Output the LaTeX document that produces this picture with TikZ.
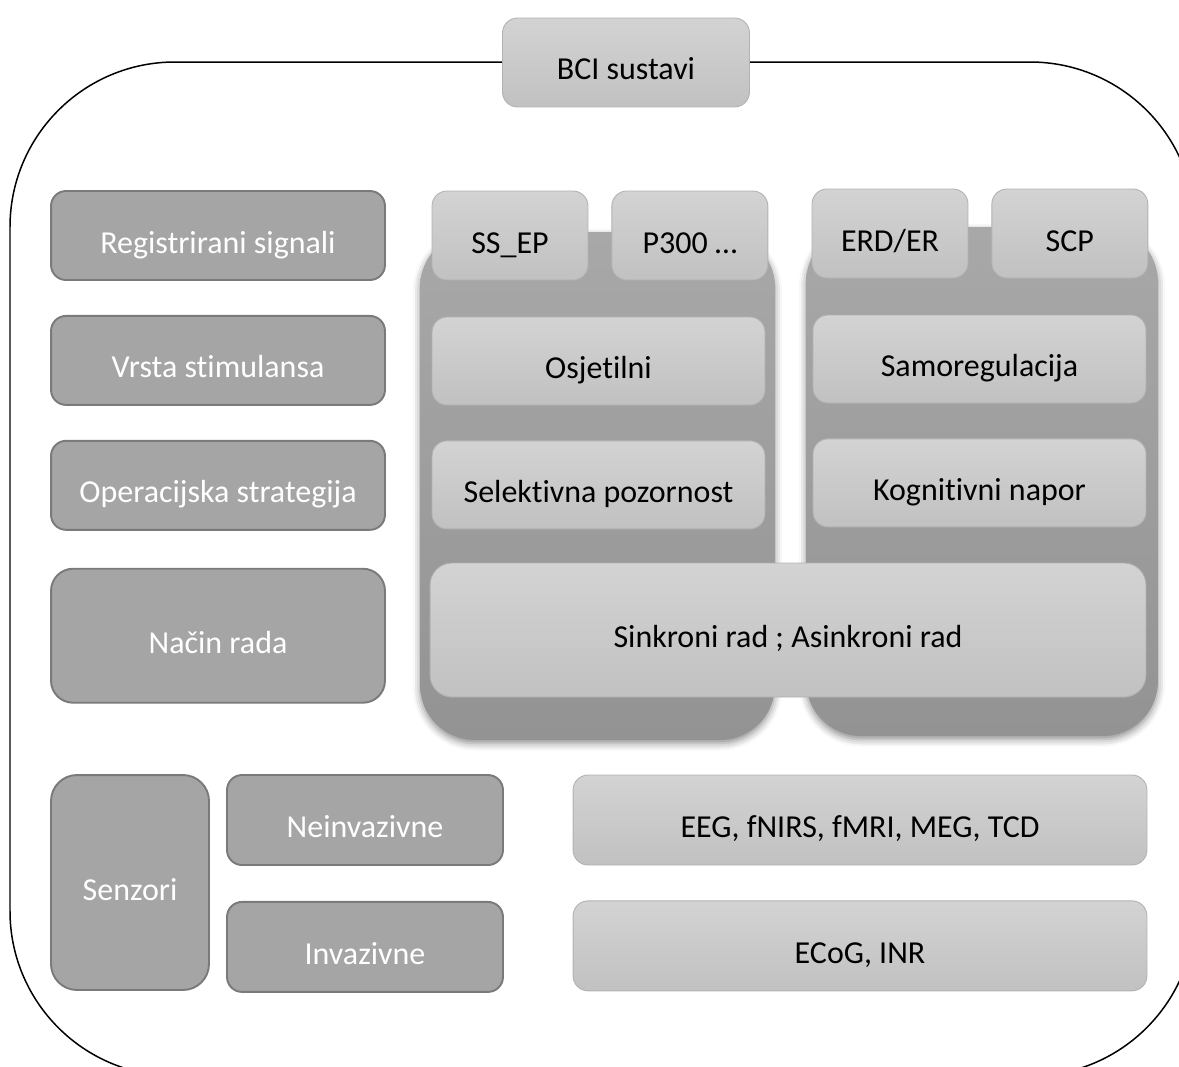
\documentclass[tikz,border=0pt]{standalone}
\usepackage{fontspec}
\setmainfont{Carlito}[Ligatures=NoCommon]
\usetikzlibrary{positioning, shadows.blur}
\definecolor{boxdark}{RGB}{165,165,165}
\definecolor{boxdarkline}{RGB}{122,122,122}
\definecolor{boxlighttop}{RGB}{211,211,211}
\definecolor{boxlightbot}{RGB}{193,193,193}
\definecolor{boxlightline}{RGB}{178,178,178}
\definecolor{grouptop}{RGB}{168,168,168}
\definecolor{groupbot}{RGB}{147,147,147}
\tikzset{
    bcidiagram/.style={x=0.02cm, y=-0.02cm, font=\fontsize{18.2}{22}\selectfont, node distance=0.68cm and 0.46cm},
    frame/.style={draw=black, line width=0.85pt, rounded corners=3.3cm},
    group/.style={top color=grouptop, bottom color=groupbot, rounded corners=1.1cm,
        blur shadow={shadow xshift=0pt, shadow yshift=-2pt, shadow blur radius=4pt, shadow opacity=45}},
    darkbox/.style={draw=boxdarkline, line width=1.1pt, fill=boxdark, text=white, rounded corners=0.3cm,
        minimum width=6.68cm, minimum height=1.78cm, inner sep=0pt, text height=20pt, text depth=0pt},
    lightbox/.style={draw=boxlightline, line width=0.5pt, top color=boxlighttop, bottom color=boxlightbot,
        rounded corners=0.3cm, minimum height=1.78cm, inner sep=0pt, text height=20pt, text depth=0pt},
    tab/.style={lightbox, minimum width=3.12cm},
    wide/.style={lightbox, minimum width=6.66cm, minimum height=1.76cm},
}

\begin{document}
\begin{tikzpicture}[bcidiagram]
    \useasboundingbox (0,0) rectangle (1179,1066);
    \clip (0,0) rectangle (1179,1066);

    % outer frame with the title on its top edge
    \draw[frame] (10,62) rectangle (1195,1076);
    \node[lightbox, minimum width=4.94cm, text height=19pt] (bci) at (626,62.5) {BCI sustavi};

    % left column
    \node[darkbox]                    (reg)   at (218,235.5) {Registrirani signali};
    \node[darkbox, below=of reg]      (vrsta) {Vrsta stimulansa};
    \node[darkbox, below=of vrsta]    (oper)  {Operacijska strategija};
    \node[darkbox, below=0.74cm of oper, minimum height=2.68cm, rounded corners=0.44cm] (nacin) {Način rada};

    % the two groups behind the light boxes
    \node[group, minimum width=7.1cm, minimum height=10.16cm]  (grpL) at (597.5,486) {};
    \node[group, minimum width=7.04cm, minimum height=10.18cm] (grpR) at (982,481.5) {};

    \node[tab]                    (ssep) at (510,235.5) {SS\_EP};
    \node[tab, right=of ssep]     (p300) {P300 …};
    \node[tab]                    (erd)  at (890,233.5) {ERD/ER};
    \node[tab, right=of erd]      (scp)  {SCP};

    \node[wide]                   (osj)  at (598.5,361) {Osjetilni};
    \node[wide, below=0.7cm of osj]  (sel)  {Selektivna pozornost};
    \node[wide]                   (samo) at (979.5,359) {Samoregulacija};
    \node[wide, below=0.7cm of samo] (kog)  {Kognitivni napor};

    \node[lightbox, minimum width=14.32cm, minimum height=2.68cm, rounded corners=0.44cm] (sink) at (788,630) {Sinkroni rad ; Asinkroni rad};

    % sensors
    \node[darkbox, minimum width=3.16cm, minimum height=4.3cm, rounded corners=0.52cm] (senz) at (130,882.5) {Senzori};
    \node[darkbox, minimum width=5.52cm, minimum height=1.8cm] (neinv) at (365,820) {Neinvazivne};
    \node[darkbox, minimum width=5.52cm, minimum height=1.8cm, below=0.7cm of neinv] (inv) {Invazivne};
    \node[lightbox, minimum width=11.48cm, minimum height=1.8cm] (eeg) at (860,820) {EEG, fNIRS, fMRI, MEG, TCD};
    \node[lightbox, minimum width=11.48cm, minimum height=1.8cm, below=0.7cm of eeg] (ecog) {ECoG, INR};
\end{tikzpicture}
\end{document}
